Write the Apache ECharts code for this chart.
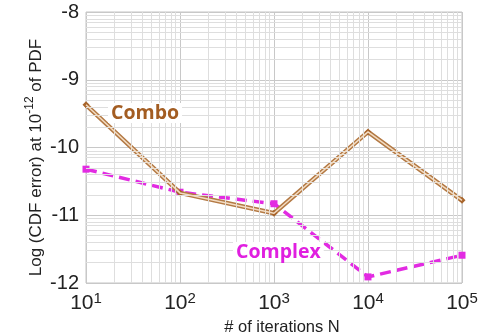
<!DOCTYPE html>
<html>
<head>
<meta charset="utf-8">
<script src="https://cdn.jsdelivr.net/npm/echarts@6/dist/echarts.min.js"></script>
<style>
  html, body { margin: 0; padding: 0; background: #fff; }
  #chart { width: 485px; height: 336px; }
</style>
</head>
<body>
<div id="chart"></div>
<script>
// number of iterations N (log axis)
var iters = [10, 100, 1000, 10000, 100000];
// Log (CDF error) values
var combo = [-9.37, -10.67, -10.97, -9.77, -10.78];
var complex = [-10.32, -10.66, -10.83, -11.91, -11.59];
var yMin = -12, yMax = -8;

var chart = echarts.init(document.getElementById('chart'));

function pairs(ys) {
	var out = [];
	for (var i = 0; i < iters.length; i++) out.push([iters[i], ys[i]]);
	return out;
}

// minor grid (log style in both directions)
var minorLines = [];
for (var d = 1; d < 5; d++) {
	for (var k = 2; k < 10; k++) minorLines.push({ xAxis: k * Math.pow(10, d) });
}
for (var u = yMin; u < yMax; u++) {
	for (var k2 = 2; k2 < 10; k2++) minorLines.push({ yAxis: u + Math.log10(k2) });
}

var option = {
	animation: false,
	grid: {
		left: 86, right: 23, top: 12, bottom: 53,
		outerBoundsMode: 'none',
		containLabel: false,
		show: true, borderColor: '#c4c4c4', borderWidth: 1
	},
	xAxis: {
		type: 'log',
		logBase: 10,
		min: 10,
		max: 100000,
		name: '# of iterations N',
		nameLocation: 'middle',
		nameGap: 35,
		nameTextStyle: { fontFamily: 'Liberation Sans', fontSize: 16.5, color: '#222', padding: [0, 0, 0, 16] },
		axisLine: { show: false },
		axisTick: { show: false },
		splitLine: { show: true, lineStyle: { color: '#c8c8c8', width: 1 } },
		axisLabel: {
			margin: 8,
			formatter: function (v) {
				return '{b|10}{s|' + Math.round(Math.log10(v)) + '}';
			},
			rich: {
				b: { fontFamily: 'Liberation Sans', fontSize: 21, color: '#222', verticalAlign: 'bottom' },
				s: { fontFamily: 'Liberation Sans', fontSize: 15, color: '#222', verticalAlign: 'top', padding: [0, 0, 8, 0] }
			}
		}
	},
	yAxis: {
		type: 'value',
		min: yMin,
		max: yMax,
		interval: 1,
		name: '{t|Log (CDF error) at 10}{s|-12}{t| of PDF}',
		nameLocation: 'middle',
		nameMoveOverlap: false,
		nameGap: 41,
		nameTextStyle: {
			padding: [0, 20, 0, 0],
			rich: {
				t: { fontFamily: 'Liberation Sans', fontSize: 17, color: '#222', verticalAlign: 'bottom' },
				s: { fontFamily: 'Liberation Sans', fontSize: 12, color: '#222', verticalAlign: 'top', padding: [0, 0, 9, 0] }
			}
		},
		axisLine: { show: false },
		axisTick: { show: false },
		splitLine: { show: true, lineStyle: { color: '#c8c8c8', width: 1 } },
		axisLabel: {
			margin: 7,
			fontFamily: 'Liberation Sans',
			fontSize: 20,
			color: '#222'
		}
	},
	series: [
		{
			name: 'grid',
			type: 'line',
			data: [],
			silent: true,
			markLine: {
				silent: true,
				symbol: 'none',
				label: { show: false },
				lineStyle: { color: '#dedede', width: 1, type: 'solid' },
				data: minorLines
			}
		},
		{
			name: 'Complex',
			type: 'line',
			data: pairs(complex),
			symbol: 'rect',
			symbolSize: 7,
			itemStyle: { color: '#e22be2' },
			lineStyle: { color: '#e22be2', width: 3.5, type: [11, 6] },
			z: 3
		},
		{
			name: 'Combo',
			type: 'line',
			data: pairs(combo),
			symbol: 'diamond',
			symbolSize: 7,
			itemStyle: { color: '#a8652c' },
			lineStyle: { color: '#b47a45', width: 4.5 },
			z: 4
		},
		{
			name: 'Combo inner',
			type: 'line',
			data: pairs(combo),
			symbol: 'none',
			lineStyle: { color: '#f3dcc2', width: 1.5 },
			z: 5
		}
	],
	graphic: [
		{
			type: 'text',
			left: 108, top: 103,
			z: 10,
			style: {
				text: 'Combo',
				fontFamily: 'Open Sans',
				fontWeight: 'bold',
				fontSize: 19.5,
				fill: '#a35d22',
				backgroundColor: '#fff',
				padding: [0, 3]
			}
		},
		{
			type: 'text',
			left: 233, top: 242,
			z: 10,
			style: {
				text: 'Complex',
				fontFamily: 'Open Sans',
				fontWeight: 'bold',
				fontSize: 19.5,
				fill: '#e01fe0',
				backgroundColor: '#fff',
				padding: [0, 3]
			}
		}
	]
};

chart.setOption(option);
</script>
</body>
</html>
